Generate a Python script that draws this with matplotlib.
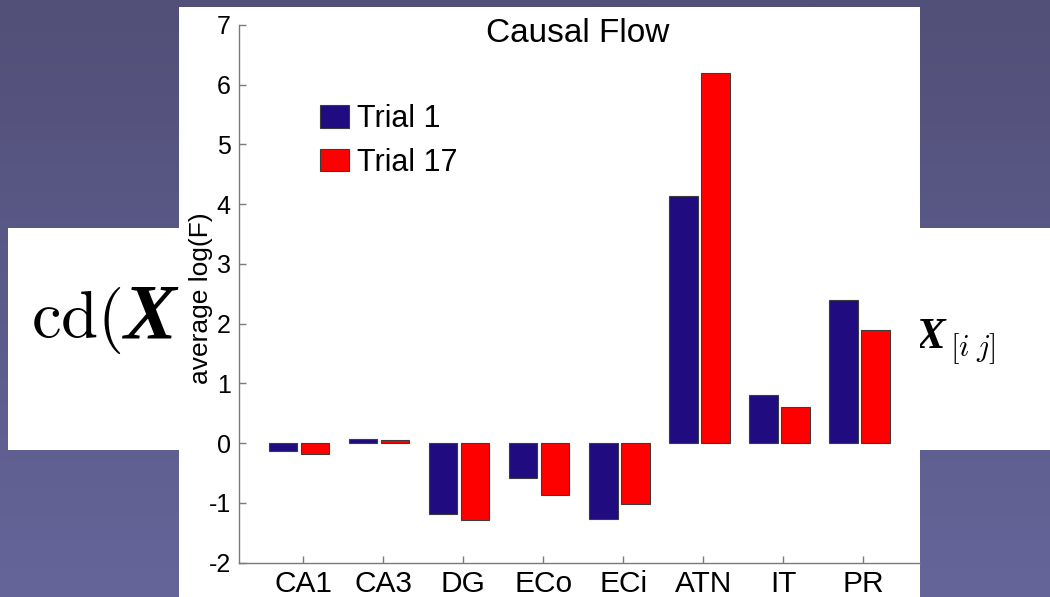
import matplotlib
matplotlib.use("Agg")
import matplotlib.pyplot as plt
import numpy as np
from matplotlib.colors import LinearSegmentedColormap
from matplotlib.patches import Rectangle

plt.rcParams['font.family'] = ['Liberation Sans', 'DejaVu Sans']
plt.rcParams['mathtext.fontset'] = 'custom'
plt.rcParams['mathtext.rm'] = 'cmr10'
plt.rcParams['mathtext.it'] = 'cmmi10'
plt.rcParams['mathtext.bf'] = 'Liberation Serif:italic:bold'

# data
regions = ['CA1', 'CA3', 'DG', 'ECo', 'ECi', 'ATN', 'IT', 'PR']
trial_1 = [-0.13, 0.07, -1.18, -0.59, -1.27, 4.14, 0.80, 2.39]
trial_17 = [-0.18, 0.055, -1.28, -0.86, -1.01, 6.19, 0.60, 1.89]
series_labels = ['Trial 1', 'Trial 17']
ytick_values = [-2, -1, 0, 1, 2, 3, 4, 5, 6, 7]
ytick_labels = ['-2', '-1', '0', '1', '2', '3', '4', '5', '6', '7']

BLUE = '#200B80'
RED = '#FF0000'
AXIS_GREY = '#7a7a7a'
W, H = 1050, 597

fig = plt.figure(figsize=(W / 100, H / 100), dpi=100)

# slide background: gradient, white formula strip, white figure box
bg = fig.add_axes([0, 0, 1, 1])
grad = np.linspace(0, 1, 256)[:, None]
cmap = LinearSegmentedColormap.from_list('slide', ['#524F78', '#65659A'])
bg.imshow(grad, extent=[0, W, H, 0], cmap=cmap, aspect='auto', zorder=0)
bg.add_patch(Rectangle((8, 228), W - 8, 222, fc='white', ec='none', zorder=1))
bg.text(31, 337, r'$\mathrm{cd}($', fontsize=48, va='baseline', zorder=2)
bg.text(121, 337, r'$\mathbf{X}$', fontsize=57, va='baseline', zorder=2)
bg.text(914, 348, r'$\mathbf{X}$', fontsize=32, va='baseline', zorder=2)
bg.text(950, 356, r'$[i\;j]$', fontsize=22, va='baseline', zorder=2)
bg.add_patch(Rectangle((179, 7), 920 - 179, H - 7, fc='white', ec='none', zorder=3))
bg.set_xlim(0, W)
bg.set_ylim(H, 0)
bg.axis('off')

# bar chart
ax = fig.add_axes([239 / W, (H - 562.7) / H, (920 - 239) / W, (562.7 - 25) / H])
ax.patch.set_alpha(0)
x = np.arange(1, len(regions) + 1)
ax.bar(x - 0.25, trial_1, width=0.36, color=BLUE, edgecolor='#3c3c3c',
       linewidth=0.8, label=series_labels[0])
ax.bar(x + 0.15, trial_17, width=0.36, color=RED, edgecolor='#3c3c3c',
       linewidth=0.8, label=series_labels[1])

ax.set_xlim(0.2, 8.71)
ax.set_ylim(-2, 7)
ax.set_xticks(x, regions, fontsize=21.5)
ax.set_yticks(ytick_values, ytick_labels, fontsize=18)
ax.tick_params(direction='in', length=5, width=1, color=AXIS_GREY)
ax.tick_params(axis='y', pad=6)
ax.tick_params(axis='x', pad=5)
for side in ['top', 'right']:
    ax.spines[side].set_visible(False)
for side in ['left', 'bottom']:
    ax.spines[side].set_color(AXIS_GREY)
    ax.spines[side].set_linewidth(1)

fig.text(201 / W, 1 - 298 / H, 'average log(F)', rotation=90,
         ha='center', va='center', fontsize=19)
fig.text(578 / W, 1 - 42 / H, 'Causal Flow', ha='center', va='baseline',
         fontsize=24)

ax.legend(loc='upper left', bbox_to_anchor=(320 / W, 1 - 104 / H),
          bbox_transform=fig.transFigure, frameon=False, fontsize=22,
          handlelength=0.95, handleheight=0.75, handletextpad=0.25,
          labelspacing=0.45, borderpad=0, borderaxespad=0)

fig.savefig('out.png', dpi=100)
